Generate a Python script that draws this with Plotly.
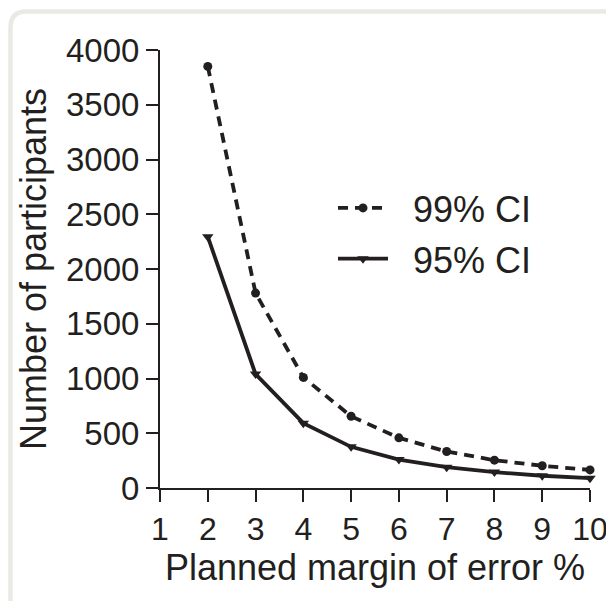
import plotly.graph_objects as go

margin_pct = [2, 3, 4, 5, 6, 7, 8, 9, 10]
ci99 = [3850, 1780, 1010, 655, 458, 333, 254, 203, 165]
ci95 = [2295, 1040, 592, 376, 260, 190, 145, 112, 90]
x_ticks = [1, 2, 3, 4, 5, 6, 7, 8, 9, 10]
y_ticks = [0, 500, 1000, 1500, 2000, 2500, 3000, 3500, 4000]

OFF = 8  # page body margin
W, H = 614 - OFF, 609 - 2 * OFF
L, T = 160 - OFF, 50 - OFF
PW, PH = 430, 438
R = W - L - PW
B = H - T - PH
FONT = "Liberation Sans, Arial, sans-serif"
INK = "#231f20"

fig = go.Figure()
fig.add_trace(go.Scatter(
    x=margin_pct, y=ci99, name="\u00a0\u00a099% CI", mode="lines+markers",
    line=dict(color=INK, width=3.8, dash="10px,7px"),
    marker=dict(symbol="circle", size=9, color=INK),
    cliponaxis=False, legendgroup="a",
))
fig.add_trace(go.Scatter(
    x=margin_pct, y=ci95, name="\u00a0\u00a095% CI", mode="lines+markers",
    line=dict(color=INK, width=3.8),
    marker=dict(symbol="triangle-down", size=10, color=INK),
    cliponaxis=False, legendgroup="b",
))

def px_x(s):  # screen px -> paper
    return (s - OFF - L) / PW
def px_y(s):
    return 1 - (s - OFF - T) / PH

# rounded panel border
rr = 16
bx, by = 10.5, 11.5
path = (f"M {px_x(bx)},{px_y(by + rr)} "
        f"Q {px_x(bx)},{px_y(by)} {px_x(bx + rr)},{px_y(by)} "
        f"L {px_x(660)},{px_y(by)} L {px_x(660)},{px_y(660)} L {px_x(bx)},{px_y(660)} Z")
fig.add_shape(type="path", path=path, xref="paper", yref="paper",
              line=dict(color="#ebe9e4", width=4.5), fillcolor="rgba(0,0,0,0)", layer="below")

fig.update_layout(
    width=W, height=H,
    margin=dict(l=L, r=R, t=T, b=B, autoexpand=False),
    paper_bgcolor="white", plot_bgcolor="white",
    font=dict(family=FONT, color=INK, size=33),
    showlegend=True,
    legend=dict(
        x=px_x(333), y=px_y(178), xanchor="left", yanchor="top",
        font=dict(size=36, family=FONT, color=INK),
        bgcolor="rgba(0,0,0,0)", itemwidth=50, tracegroupgap=1,
    ),
    xaxis=dict(
        range=[1, 10], tickvals=x_ticks, ticktext=[str(v) for v in x_ticks],
        showgrid=False, zeroline=False, showline=True, linecolor=INK, linewidth=2,
        ticks="outside", ticklen=12, tickwidth=2, tickcolor=INK,
        tickfont=dict(size=32, family=FONT, color=INK), ticklabeloverflow="allow",
        title=dict(text="Planned margin of error %", font=dict(size=36, family=FONT, color=INK), standoff=6),
    ),
    yaxis=dict(
        range=[0, 4000], tickvals=y_ticks, ticktext=[str(v) for v in y_ticks],
        showgrid=False, zeroline=False, showline=True, linecolor=INK, linewidth=2,
        ticks="outside", ticklen=12, tickwidth=2, tickcolor=INK,
        tickfont=dict(size=33, family=FONT, color=INK),
        title=dict(text="Number of participants", font=dict(size=36, family=FONT, color=INK), standoff=8),
    ),
)

fig.write_html("out.html")
